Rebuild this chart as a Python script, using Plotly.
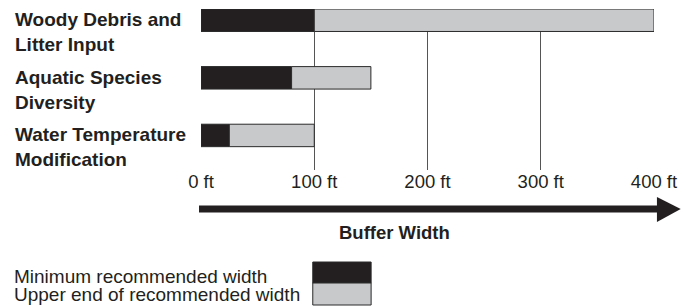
import plotly.graph_objects as go

categories = ["Woody Debris and<br>Litter Input", "Aquatic Species<br>Diversity", "Water Temperature<br>Modification"]
min_width = [100, 80, 25]
upper_width = [400, 150, 100]
tick_vals = [0, 100, 200, 300, 400]
tick_text = ["0 ft", "100 ft", "200 ft", "300 ft", "400 ft"]
legend_labels = ["Minimum recommended width", "Upper end of recommended width"]
axis_title = "Buffer Width"

BLACK = "#231f20"
GRAY = "#c8c9cb"
EDGE = "#2a2a2a"
FONT = "Liberation Sans, Arial, sans-serif"

W, H = 686, 307
L, R, T, B = 201, 27, 9, 137
PW, PH = W - L - R, H - T - B

def px(x):
    return (x - L) / PW

def py(y):
    return (H - B - y) / PH

fig = go.Figure()
fig.add_trace(go.Bar(
    y=categories, x=min_width, orientation="h", width=0.39,
    marker=dict(color=BLACK, line=dict(color=EDGE, width=1)),
    name=legend_labels[0], showlegend=False, hoverinfo="skip"))
fig.add_trace(go.Bar(
    y=categories, x=[u - m for u, m in zip(upper_width, min_width)], base=min_width,
    orientation="h", width=0.39,
    marker=dict(color=GRAY, line=dict(color=EDGE, width=1)),
    name=legend_labels[1], showlegend=False, hoverinfo="skip"))

fig.update_layout(
    width=W, height=H, margin=dict(l=L, r=R, t=T, b=B),
    paper_bgcolor="white", plot_bgcolor="white",
    font=dict(family=FONT, color="#231f20", size=19),
    barmode="overlay", showlegend=False,
    xaxis=dict(range=[0, 400], tickvals=tick_vals, ticktext=tick_text,
               showgrid=True, gridcolor="#555555", gridwidth=1,
               zeroline=False, showline=False, ticks="", ticklabelstandoff=-2,
               tickfont=dict(size=18.5, family=FONT, color="#231f20")),
    yaxis=dict(categoryorder="array", categoryarray=categories,
               range=[2.6, -0.195], showticklabels=False, showgrid=False,
               zeroline=False, showline=False, ticks=""),
)

# category labels (left aligned)
for c in categories:
    fig.add_annotation(x=px(12), xref="paper", y=c, yref="y", xanchor="left",
                       yanchor="middle", yshift=-12, align="left", showarrow=False,
                       borderpad=0, text="<b>" + c + "</b>",
                       font=dict(size=19, family=FONT, color="#231f20"))

# arrow
arrow_y = 209
fig.add_shape(type="line", xref="paper", yref="paper",
              x0=px(199), x1=px(666), y0=py(arrow_y), y1=py(arrow_y),
              line=dict(color=BLACK, width=7))
fig.add_shape(type="path", xref="paper", yref="paper",
              path=f"M {px(662)} {py(197)} L {px(686)} {py(arrow_y)} L {px(662)} {py(222)} Z",
              fillcolor=BLACK, line=dict(color=BLACK, width=0))
fig.add_annotation(x=px(397), xref="paper", y=py(232), yref="paper",
                   text="<b>" + axis_title + "</b>", showarrow=False,
                   xanchor="center", yanchor="middle",
                   font=dict(size=18.5, family=FONT, color="#231f20"))

# legend
fig.add_shape(type="rect", xref="paper", yref="paper",
              x0=px(314), x1=px(373), y0=py(262), y1=py(283),
              fillcolor=BLACK, line=dict(color=EDGE, width=1))
fig.add_shape(type="rect", xref="paper", yref="paper",
              x0=px(314), x1=px(373), y0=py(283), y1=py(305),
              fillcolor=GRAY, line=dict(color=EDGE, width=1))
for lab, yy in zip(legend_labels, [276, 294]):
    fig.add_annotation(x=px(11), xref="paper", y=py(yy), yref="paper",
                       text=lab, showarrow=False, xanchor="left", yanchor="middle",
                       borderpad=0,
                       font=dict(size=19, family=FONT, color="#231f20"))

fig.write_html("out.html", config={"displayModeBar": False},
               post_script="document.body.style.margin='0';")
